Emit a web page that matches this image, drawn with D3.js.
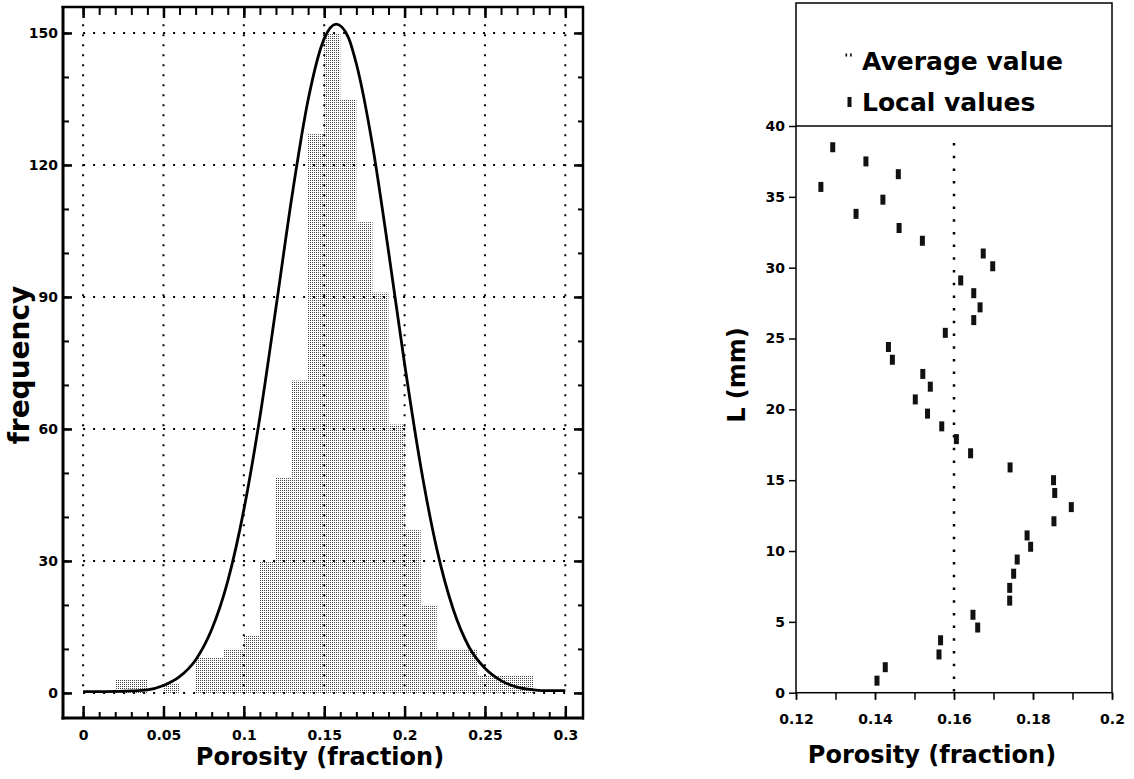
<!DOCTYPE html>
<html>
<head>
<meta charset="utf-8">
<script src="https://cdn.jsdelivr.net/npm/d3@7"></script>
<style>
  body { margin: 0; background: #fff; }
  svg text { font-family: "DejaVu Sans", sans-serif; font-weight: bold; fill: #000; }
</style>
</head>
<body>
<script>
// ---- left panel: porosity histogram + fitted curve ----
const binStart = [0.02, 0.05, 0.07, 0.0875, 0.10, 0.11, 0.12, 0.13, 0.14, 0.15, 0.16, 0.17, 0.18, 0.19, 0.20, 0.21, 0.22, 0.245];
const binEnd   = [0.04, 0.06, 0.0875, 0.10, 0.11, 0.12, 0.13, 0.14, 0.15, 0.16, 0.17, 0.18, 0.19, 0.20, 0.21, 0.22, 0.245, 0.28];
const binCount = [3, 2, 8, 10, 13, 30, 49, 71, 127, 150, 135, 107, 91, 61, 37, 20, 10, 4];

const curvePorosity = [0, 0.01, 0.02, 0.03, 0.04, 0.05, 0.06, 0.07, 0.08, 0.09, 0.10, 0.11, 0.12, 0.13, 0.14, 0.15, 0.1575, 0.165,
                       0.17, 0.18, 0.19, 0.20, 0.21, 0.22, 0.23, 0.24, 0.25, 0.26, 0.27, 0.28, 0.29, 0.30];
const curveFreq = [0.3, 0.3, 0.35, 0.45, 0.7, 1.7, 3.7, 7.5, 14.4, 25.4, 41.6, 62.7, 87.6, 113, 134.8, 148.7, 152, 149,
                   143, 124.6, 100.4, 74.8, 51.6, 32.8, 19.3, 10.5, 5.6, 2.8, 1.3, 0.7, 0.5, 0.5];

const leftXTicks = [0, 0.05, 0.1, 0.15, 0.2, 0.25, 0.3];
const leftYTicks = [0, 30, 60, 90, 120, 150];

// ---- right panel: local porosity along the sample ----
const localL = [0.85, 1.8, 2.7, 3.7, 4.6, 5.5, 6.5, 7.4, 8.4, 9.4, 10.3, 11.1, 12.1, 13.1, 14.1, 15.0, 15.9, 16.9, 17.9, 18.8,
                19.7, 20.7, 21.6, 22.5, 23.5, 24.4, 25.4, 26.3, 27.2, 28.2, 29.1, 30.1, 31.0, 31.9, 32.8, 33.8, 34.8, 35.7, 36.6, 37.5, 38.5];
const localPorosity = [0.1405, 0.1426, 0.1562, 0.1566, 0.166, 0.1648, 0.1741, 0.1741, 0.1751, 0.176, 0.1794, 0.1785, 0.1853, 0.1897,
                       0.1855, 0.1852, 0.1742, 0.1642, 0.1606, 0.1569, 0.1533, 0.1502, 0.154, 0.1521, 0.1444, 0.1434, 0.1578, 0.165,
                       0.1666, 0.165, 0.1617, 0.1698, 0.1674, 0.152, 0.1461, 0.1352, 0.142, 0.1263, 0.1459, 0.1377, 0.1293];
const averagePorosity = 0.16;

const rightXTicks = [0.12, 0.14, 0.16, 0.18, 0.2];
const rightYTicks = [0, 5, 10, 15, 20, 25, 30, 35, 40];

const svg = d3.select("body").append("svg")
  .attr("width", 1134)
  .attr("height", 779);

const defs = svg.append("defs");
const pat = defs.append("pattern")
  .attr("id", "stipple")
  .attr("width", 2).attr("height", 2)
  .attr("patternUnits", "userSpaceOnUse");
pat.append("rect").attr("width", 2).attr("height", 2).attr("fill", "#fff");
pat.append("rect").attr("width", 1).attr("height", 1).attr("fill", "#444");

function fmt(d) { return String(+d.toFixed(2)); }

function styleAxis(g, w) {
  g.select(".domain").remove();
  g.selectAll("line").attr("stroke", "#000").attr("stroke-width", w);
  g.selectAll("text").attr("font-family", null).attr("font-size", null);
}

// ================= left panel =================
const xL = d3.scaleLinear().domain([-0.0125, 0.311]).range([63, 583]);
const yL = d3.scaleLinear().domain([-5.7, 155.9]).range([718, 7]);
const left = svg.append("g");

left.selectAll("rect.bar")
  .data(binCount)
  .join("rect")
  .attr("class", "bar")
  .attr("x", (d, i) => xL(binStart[i]))
  .attr("width", (d, i) => xL(binEnd[i]) - xL(binStart[i]))
  .attr("y", d => yL(d))
  .attr("height", d => yL(0) - yL(d))
  .attr("fill", "url(#stipple)");

// dotted grid
left.selectAll("line.vgrid")
  .data(leftXTicks)
  .join("line")
  .attr("x1", d => xL(d)).attr("x2", d => xL(d))
  .attr("y1", yL(152)).attr("y2", yL(0))
  .attr("stroke", "#000").attr("stroke-width", 2)
  .attr("stroke-dasharray", "2 8");
left.selectAll("line.hgrid")
  .data(leftYTicks)
  .join("line")
  .attr("x1", xL(0)).attr("x2", xL(0.3))
  .attr("y1", d => yL(d)).attr("y2", d => yL(d))
  .attr("stroke", "#000").attr("stroke-width", 2)
  .attr("stroke-dasharray", "2 8");

const line = d3.line()
  .x((d, i) => xL(curvePorosity[i]))
  .y(d => yL(d))
  .curve(d3.curveMonotoneX);
left.append("path")
  .attr("d", line(curveFreq))
  .attr("fill", "none")
  .attr("stroke", "#000")
  .attr("stroke-width", 2.8);

const xMinor = d3.range(0, 0.3001, 0.01);
const yMinor = d3.range(0, 151, 10);

left.append("g").attr("transform", "translate(0,718)")
  .call(d3.axisBottom(xL).tickValues(xMinor).tickSize(-6).tickSizeOuter(0).tickFormat(""))
  .call(g => styleAxis(g, 2));
left.append("g").attr("transform", "translate(0,718)")
  .call(d3.axisBottom(xL).tickValues(leftXTicks).tickSize(-12).tickSizeOuter(0).tickPadding(12).tickFormat(fmt))
  .call(g => styleAxis(g, 2.5))
  .selectAll("text").attr("font-size", 14);
left.append("g").attr("transform", "translate(0,7)")
  .call(d3.axisTop(xL).tickValues(xMinor).tickSize(-8).tickSizeOuter(0).tickFormat(""))
  .call(g => styleAxis(g, 2));
left.append("g").attr("transform", "translate(0,7)")
  .call(d3.axisTop(xL).tickValues(leftXTicks).tickSize(-11).tickSizeOuter(0).tickFormat(""))
  .call(g => styleAxis(g, 2.5));
left.append("g").attr("transform", "translate(63,0)")
  .call(d3.axisLeft(yL).tickValues(yMinor).tickSize(-6).tickSizeOuter(0).tickFormat(""))
  .call(g => styleAxis(g, 2));
left.append("g").attr("transform", "translate(63,0)")
  .call(d3.axisLeft(yL).tickValues(leftYTicks).tickSize(-9).tickSizeOuter(0).tickPadding(5).tickFormat(d3.format("d")))
  .call(g => styleAxis(g, 2.5))
  .selectAll("text").attr("font-size", 14);
left.append("g").attr("transform", "translate(583,0)")
  .call(d3.axisRight(yL).tickValues(yMinor).tickSize(-5).tickSizeOuter(0).tickFormat(""))
  .call(g => styleAxis(g, 2));
left.append("g").attr("transform", "translate(583,0)")
  .call(d3.axisRight(yL).tickValues(leftYTicks).tickSize(-9).tickSizeOuter(0).tickFormat(""))
  .call(g => styleAxis(g, 2.5));

// frame
left.append("line").attr("x1", 63).attr("x2", 63).attr("y1", 6).attr("y2", 719.5).attr("stroke", "#000").attr("stroke-width", 3);
left.append("line").attr("x1", 61.5).attr("x2", 584).attr("y1", 718).attr("y2", 718).attr("stroke", "#000").attr("stroke-width", 3);
left.append("line").attr("x1", 61.5).attr("x2", 584).attr("y1", 7).attr("y2", 7).attr("stroke", "#000").attr("stroke-width", 2.5);
left.append("line").attr("x1", 583).attr("x2", 583).attr("y1", 6).attr("y2", 719.5).attr("stroke", "#000").attr("stroke-width", 2.5);

left.append("text")
  .attr("x", 320).attr("y", 765)
  .attr("text-anchor", "middle")
  .attr("font-size", 24)
  .text("Porosity (fraction)");
left.append("text")
  .attr("transform", "translate(29,365) rotate(-90)")
  .attr("text-anchor", "middle")
  .attr("font-size", 28)
  .text("frequency");

// ================= right panel =================
const xR = d3.scaleLinear().domain([0.12, 0.2]).range([796, 1112]);
const yR = d3.scaleLinear().domain([0, 40]).range([692.7, 126]);
const right = svg.append("g");

right.append("rect")
  .attr("x", 796).attr("y", 3)
  .attr("width", 1112 - 796).attr("height", 692.7 - 3)
  .attr("fill", "none").attr("stroke", "#000").attr("stroke-width", 1.5);
right.append("line")
  .attr("x1", 796).attr("x2", 1112)
  .attr("y1", yR(40)).attr("y2", yR(40))
  .attr("stroke", "#000").attr("stroke-width", 1.5);

right.append("line")
  .attr("x1", xR(averagePorosity)).attr("x2", xR(averagePorosity))
  .attr("y1", yR(38.8)).attr("y2", yR(0))
  .attr("stroke", "#000").attr("stroke-width", 2.5)
  .attr("stroke-dasharray", "2.5 10.2");

right.selectAll("rect.pt")
  .data(localL)
  .join("rect")
  .attr("class", "pt")
  .attr("x", (d, i) => xR(localPorosity[i]) - 2.5)
  .attr("y", d => yR(d) - 5)
  .attr("width", 5)
  .attr("height", 10)
  .attr("fill", "#111");

const xMinorR = d3.range(0.12, 0.2001, 0.01);
right.append("g").attr("transform", "translate(0,692.7)")
  .call(d3.axisBottom(xR).tickValues(xMinorR).tickSize(7).tickSizeOuter(0).tickFormat(""))
  .call(g => styleAxis(g, 1.5));
right.append("g").attr("transform", "translate(0,692.7)")
  .call(d3.axisBottom(xR).tickValues(rightXTicks).tickSize(7).tickSizeOuter(0).tickPadding(14).tickFormat(fmt))
  .call(g => styleAxis(g, 1.5))
  .selectAll("text").attr("font-size", 14);
right.append("g").attr("transform", "translate(796,0)")
  .call(d3.axisLeft(yR).tickValues(rightYTicks).tickSize(7).tickSizeOuter(0).tickPadding(4).tickFormat(d3.format("d")))
  .call(g => styleAxis(g, 1.5))
  .selectAll("text").attr("font-size", 14);

// legend
right.append("line")
  .attr("x1", 845.5).attr("x2", 852)
  .attr("y1", 55).attr("y2", 55)
  .attr("stroke", "#000").attr("stroke-width", 3)
  .attr("stroke-dasharray", "1.6 3");
right.append("text").attr("x", 862).attr("y", 70).attr("font-size", 25).text("Average value");
right.append("rect").attr("x", 847.5).attr("y", 97).attr("width", 4).attr("height", 10).attr("fill", "#111");
right.append("text").attr("x", 862).attr("y", 111).attr("font-size", 25).text("Local values");

right.append("text")
  .attr("x", 932).attr("y", 763)
  .attr("text-anchor", "middle")
  .attr("font-size", 24)
  .text("Porosity (fraction)");
right.append("text")
  .attr("transform", "translate(745,375) rotate(-90)")
  .attr("text-anchor", "middle")
  .attr("font-size", 24)
  .text("L (mm)");
</script>
</body>
</html>
